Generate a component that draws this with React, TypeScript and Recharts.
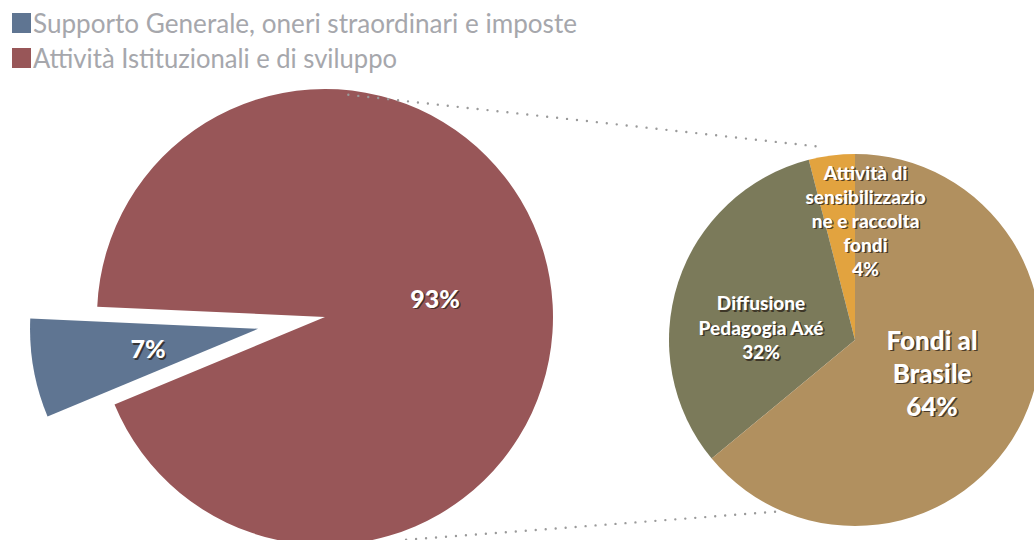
import { PieChart, Pie, Cell } from "recharts";

// main pie
const mainNames = ["Supporto Generale, oneri straordinari e imposte", "Attività Istituzionali e di sviluppo"];
const mainValues = [7, 93];
const mainColors = ["#5f7592", "#985658"];

// detail pie (breakdown of the 93%)
const detailNames = ["Attività di sensibilizzazione e raccolta fondi", "Diffusione Pedagogia Axé", "Fondi al Brasile"];
const detailLines = [
  ["Attività di", "sensibilizzazio", "ne e raccolta", "fondi"],
  ["Diffusione", "Pedagogia Axé"],
  ["Fondi al", "Brasile"],
];
const detailValues = [4, 32, 64];
const detailColors = ["#e2a33f", "#7b7a5a", "#b1905f"];

const mainData = mainNames.map((name, i) => ({ name, value: mainValues[i] }));
const detailData = detailNames.map((name, i) => ({ name, value: detailValues[i], lines: detailLines[i] }));

const W = 1034;
const H = 540;
const RAD = Math.PI / 180;
const FONT = "Lato, 'Open Sans', sans-serif";

// geometry
const BIG = { cx: 325, cy: 317, r: 228 };
const EXPLODE = 68;
const blueSpan = (mainValues[0] / 100) * 360;
const blueMid = 190;
const START = blueMid - blueSpan / 2;
const SMALL = { cx: 855, cy: 340, r: 186 };

const pt = (cx: number, cy: number, r: number, deg: number) => ({
  x: cx + r * Math.cos(deg * RAD),
  y: cy - r * Math.sin(deg * RAD),
});

const blueCenter = pt(BIG.cx, BIG.cy, EXPLODE, blueMid);

// where the labels sit in the detail pie (angle, fraction of radius, font size, line height)
const detailLabelPos = [
  { angle: 85, rf: 0.65, size: 19, lh: 24 },
  { angle: 172, rf: 0.51, size: 19, lh: 24.5 },
  { angle: 337, rf: 0.45, size: 26, lh: 33 },
];

function ShadowText({ x, y, lines, size, lh }: { x: number; y: number; lines: string[]; size: number; lh: number }) {
  const top = y - ((lines.length - 1) * lh) / 2;
  const draw = (dx: number, dy: number, fill: string, opacity: number) => (
    <text
      x={x + dx}
      y={top + dy}
      textAnchor="middle"
      dominantBaseline="central"
      fontFamily={FONT}
      fontWeight={900}
      fontSize={size}
      fill={fill}
      fillOpacity={opacity}
    >
      {lines.map((l, i) => (
        <tspan key={i} x={x + dx} y={top + dy + i * lh}>{l}</tspan>
      ))}
    </text>
  );
  return (
    <g>
      {draw(1.6, 1.6, "#2a2118", 0.75)}
      {draw(0, 0, "#ffffff", 1)}
    </g>
  );
}

const mainLabel = (showIndex: number, cx: number, cy: number) => (props: any) => {
  if (props.index !== showIndex) return null;
  const mid = props.midAngle ?? 0;
  const p = pt(cx, cy, BIG.r * 0.49, mid);
  return <ShadowText key={`ml-${showIndex}`} x={p.x} y={p.y} lines={[`${props.value}%`]} size={25} lh={30} />;
};

const detailLabel = (props: any) => {
  const pos = detailLabelPos[props.index];
  const d = detailData[props.index];
  const p = pt(SMALL.cx, SMALL.cy, SMALL.r * pos.rf, pos.angle);
  return (
    <ShadowText key={`dl-${props.index}`} x={p.x} y={p.y} lines={[...d.lines, `${d.value}%`]} size={pos.size} lh={pos.lh} />
  );
};

function LegendBox() {
  return (
    <svg width={600} height={80} style={{ position: "absolute", left: 0, top: 0 }}>
      {mainNames.map((name, i) => (
        <g key={name}>
          <rect x={12} y={13 + i * 35} width={19} height={20} fill={mainColors[i]} />
          <text
            x={33}
            y={33 + i * 35}
            fontFamily={FONT}
            fontSize={27}
            fill="#a6a7ac"
            textLength={i === 0 ? 544 : 364}
            lengthAdjust="spacingAndGlyphs"
          >
            {name}
          </text>
        </g>
      ))}
    </svg>
  );
}

export default function App() {
  const topA = pt(BIG.cx, BIG.cy, BIG.r * 0.98, 84);
  const topB = pt(SMALL.cx, SMALL.cy, SMALL.r * 1.06, 101);
  const botA = pt(BIG.cx, BIG.cy, BIG.r * 1.04, -70);
  const botB = pt(SMALL.cx, SMALL.cy, SMALL.r, 247);

  return (
    <div style={{ position: "absolute", left: 0, top: 0, width: W, height: H, background: "#fff", overflow: "hidden" }}>
      <PieChart width={W} height={H} margin={{ top: 0, right: 0, bottom: 0, left: 0 }}>
        {/* red part, centred */}
        <Pie
          data={mainData}
          dataKey="value"
          cx={BIG.cx}
          cy={BIG.cy}
          outerRadius={BIG.r}
          startAngle={START}
          endAngle={START + 360}
          stroke="none"
          labelLine={false}
          label={mainLabel(1, BIG.cx, BIG.cy)}
          isAnimationActive={false}
        >
          {mainData.map((d, i) => (
            <Cell key={d.name} fill={i === 1 ? mainColors[i] : "none"} />
          ))}
        </Pie>
        {/* blue part, pulled out */}
        <Pie
          data={mainData}
          dataKey="value"
          cx={blueCenter.x}
          cy={blueCenter.y}
          outerRadius={BIG.r}
          startAngle={START}
          endAngle={START + 360}
          stroke="none"
          labelLine={false}
          label={mainLabel(0, blueCenter.x, blueCenter.y)}
          isAnimationActive={false}
        >
          {mainData.map((d, i) => (
            <Cell key={d.name} fill={i === 0 ? mainColors[i] : "none"} />
          ))}
        </Pie>
        <Pie
          data={detailData}
          dataKey="value"
          cx={SMALL.cx}
          cy={SMALL.cy}
          outerRadius={SMALL.r}
          startAngle={90}
          endAngle={450}
          stroke="none"
          labelLine={false}
          label={detailLabel}
          isAnimationActive={false}
        >
          {detailData.map((d, i) => (
            <Cell key={d.name} fill={detailColors[i]} />
          ))}
        </Pie>
      </PieChart>
      <LegendBox />
      <svg width={W} height={H} style={{ position: "absolute", left: 0, top: 0, pointerEvents: "none" }}>
        <line x1={topA.x} y1={topA.y} x2={topB.x} y2={topB.y} stroke="#9a9a9a" strokeWidth={2.4} strokeDasharray="0 10" strokeLinecap="round" />
        <line x1={botA.x} y1={botA.y} x2={botB.x} y2={botB.y} stroke="#9a9a9a" strokeWidth={2.4} strokeDasharray="0 10" strokeLinecap="round" />
      </svg>
    </div>
  );
}
